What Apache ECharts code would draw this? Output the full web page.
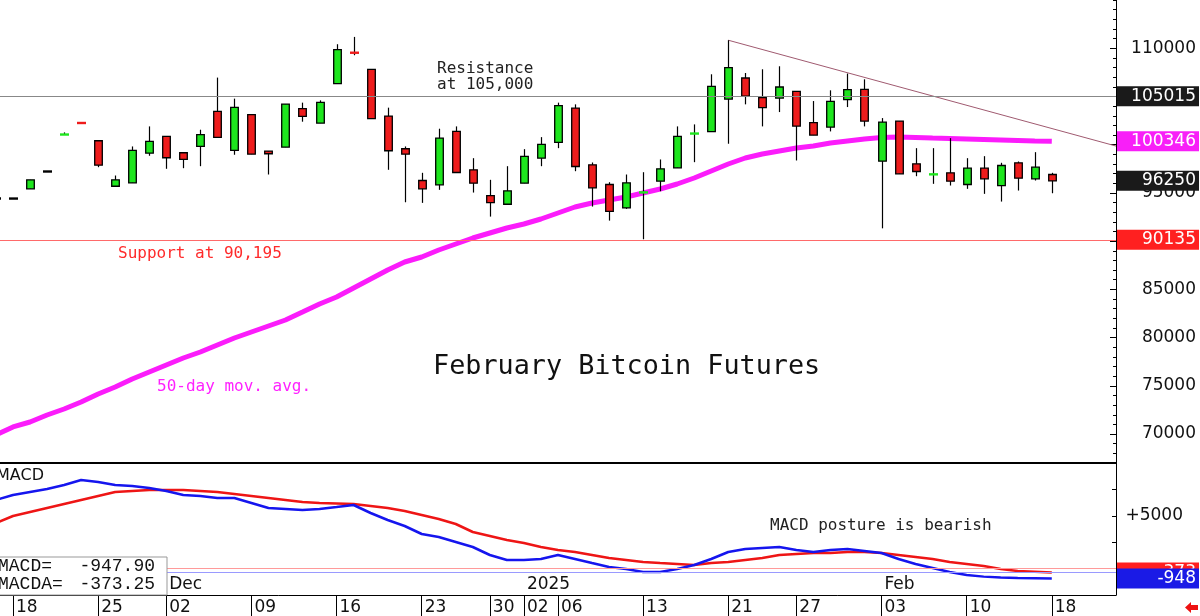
<!DOCTYPE html>
<html><head><meta charset="utf-8">
<script src="https://cdn.jsdelivr.net/npm/echarts@6/dist/echarts.min.js"></script>
<style>html,body{margin:0;padding:0;background:#fff}#c{width:1200px;height:616px}</style>
</head><body><div id="c"></div>
<script>
// ---------------- DATA ----------------
const dates = [
 '2024-11-15','2024-11-18','2024-11-19','2024-11-20','2024-11-21','2024-11-22','2024-11-25','2024-11-26','2024-11-27','2024-11-29',
 '2024-12-02','2024-12-03','2024-12-04','2024-12-05','2024-12-06','2024-12-09','2024-12-10','2024-12-11','2024-12-12','2024-12-13',
 '2024-12-16','2024-12-17','2024-12-18','2024-12-19','2024-12-20','2024-12-23','2024-12-24','2024-12-26','2024-12-27','2024-12-30','2024-12-31',
 '2025-01-02','2025-01-03','2025-01-06','2025-01-07','2025-01-08','2025-01-09','2025-01-10','2025-01-13','2025-01-14','2025-01-15','2025-01-16','2025-01-17',
 '2025-01-21','2025-01-22','2025-01-23','2025-01-24','2025-01-27','2025-01-28','2025-01-29','2025-01-30','2025-01-31',
 '2025-02-03','2025-02-04','2025-02-05','2025-02-06','2025-02-07','2025-02-10','2025-02-11','2025-02-12','2025-02-13','2025-02-14','2025-02-18'
];
const opens = [94415,94415,95423,97220,101040,102260,100410,95693,96046,99122,
 100857,99163,99818,103454,99402,103111,99329,99745,103735,102239,106332,109616,107818,102966,99579,96285,95838,101376,97397,94727,93823,
 96005,98602,100233,103797,97916,95870,93449,95040,96213,97605,101140,101345,104732,106914,104878,104836,105532,102280,101823,104670,105740,
 98291,102447,98020,96910,97085,95870,97563,95766,98124,96462,96909];
const closes = [94415,94415,96358,97220,101065,102239,97875,96358,99402,100337,
 98644,98467,101033,100753,103870,99018,99059,104213,102935,104389,109865,109449,102696,99371,99018,95423,100680,97116,96005,93999,95215,
 98779,100026,104047,97740,95527,93096,96046,95070,97501,100857,101169,106052,107995,105044,103839,105979,101927,100992,104493,105709,102447,
 102343,96981,97220,96940,96213,97563,96462,97844,96524,97667,96250];
const highs = [94415,94415,96358,97220,101273,102260,100410,96805,99818,101896,
 100857,99163,101553,106956,104774,103111,99329,104213,104358,104597,110416,111174,107818,103839,99818,97085,101657,101896,98602,96358,97771,
 99537,100784,104358,104182,98155,96109,96909,97148,98467,101896,102104,107299,110831,107434,107818,108130,105532,104525,105636,107371,106779,
 102758,102447,99641,99641,100680,98602,98810,98124,98259,99226,97085];
const lows = [94415,94415,95423,97220,101040,102239,97667,95693,96046,98852,
 97501,97563,97771,100753,98956,99018,96909,99745,102384,102239,106332,109273,102696,97397,94031,93968,95319,97116,95038,92545,93823,
 96005,97771,99641,97251,93584,92129,93346,90195,95174,97605,98187,101345,100098,104182,101896,103382,98363,100992,101376,103901,101896,
 91329,96981,96732,95942,95766,95423,94903,94103,95246,96285,94966];
const ma50 = [69904,70735,71253,71977,72599,73325,74154,74879,75709,76435,77160,77886,78508,79234,79960,80582,81204,81826,82655,83485,
 84210,85143,86076,87009,87839,88357,89083,89705,90327,90845,91363,91778,92296,92918,93540,93955,94266,94577,94992,95406,95924,
 96547,97272,97998,98620,99035,99346,99657,99864,100175,100383,100590,100745,100797,100745,100693,100642,100590,100538,100486,100435,100383,100346];
const macd = [6496,6970,7254,7538,7917,8390,8201,7917,7822,7633,7349,6970,6875,6686,6686,6212,5739,5644,5549,5644,5833,6023,5265,4602,4034,
 3277,2993,2519,2046,1288,814,814,909,1288,909,530,152,-38,-322,-322,-38,341,909,1572,1856,1951,2046,1761,1572,1761,1856,1667,1477,909,436,57,
 -322,-600,-760,-850,-900,-925,-948];
const macdSignal = [4318,4981,5360,5739,6118,6496,6875,7254,7349,7443,7443,7443,7349,7254,7065,6875,6686,6496,6307,6212,6165,6118,5928,5739,
 5455,5076,4697,4224,3466,3088,2709,2424,2046,1761,1572,1288,1004,814,625,530,436,341,530,625,814,1004,1288,1383,1477,1477,1572,1572,1477,
 1288,1098,909,625,436,246,-38,-227,-300,-373];
const macdLastValue = -947.90;
const macdaLastValue = -373.25;
const macdRefLevels = [50, -330];
const tickDates = ['2024-11-18','2024-11-25','2024-12-02','2024-12-09','2024-12-16','2024-12-23','2024-12-30','2025-01-02','2025-01-06',
 '2025-01-13','2025-01-21','2025-01-27','2025-02-03','2025-02-10','2025-02-18'];
const monthDates = ['2024-12-02','2025-01-02','2025-02-03'];
const monthLabels = ['Dec','2025','Feb'];
const priceTicks = [70000,75000,80000,85000,90000,95000,100000,105000,110000];
const resistanceLevel = 105015;
const supportLevel = 90135;
const lastPrice = 96250;
const lastMA = 100346;
const trendStart = {date:'2025-01-21', value:110831};
const trendEndValue = 99860;

// ---------------- CHART ----------------
const GREEN = '#1ee61e', RED = '#ee1c1c';
const XMIN = 0.237, XMAX = 65.77;
const idxOf = d => dates.indexOf(d);
const tickIdx = tickDates.map(idxOf);
const monthIdx = monthDates.map(idxOf);
const candleData = dates.map((d, i) => [i, opens[i], closes[i], lows[i], highs[i]]);
const maData = ma50.map((v, i) => [i, v]);
const macdData = macd.map((v, i) => [i, v]);
const sigData = macdSignal.map((v, i) => [i, v]);
const trendData = [[idxOf(trendStart.date), trendStart.value], [XMAX, trendEndValue]];

function renderCandle(params, api) {
  const x = api.value(0), o = api.value(1), c = api.value(2), l = api.value(3), h = api.value(4);
  const pO = api.coord([x, o]), pC = api.coord([x, c]), pL = api.coord([x, l]), pH = api.coord([x, h]);
  const cx = Math.round(pO[0]) + 0.5;
  const top = Math.min(pO[1], pC[1]), bot = Math.max(pO[1], pC[1]);
  const col = c > o ? GREEN : (c < o ? RED : '#000');
  const ch = [];
  if (pL[1] - pH[1] > 0.5) ch.push({type:'line', shape:{x1:cx, y1:pH[1], x2:cx, y2:pL[1]}, style:{stroke:'#000', lineWidth:1.2}});
  if (bot - top < 2) {
    ch.push({type:'rect', shape:{x:cx-4.5, y:(top+bot)/2-1.2, width:9, height:2.4}, style:{fill:col}});
  } else {
    ch.push({type:'rect', shape:{x:cx-3.8, y:top, width:7.6, height:bot-top}, style:{fill:col, stroke:'#000', lineWidth:1.3}});
  }
  return {type:'group', children:ch};
}

function boxLabel(text, bg) {
  return {show:true, position:'end', distance:1, formatter:'{v|' + text + '}', backgroundColor:bg, padding:[1,3,1,3],
    rich:{v:{width:76, align:'right', color:'#fff', fontSize:17, fontFamily:'DejaVu Sans', lineHeight:18}}};
}
const NOLINE = {color:'rgba(0,0,0,0)', width:0};
const txtFont = '16px "DejaVu Sans Mono"';

const option = {
  animation:false,
  backgroundColor:'#fff',
  grid:[
    {left:0, right:84, top:0, height:463},
    {left:0, right:84, top:463, height:132}
  ],
  xAxis:[
    {type:'value', gridIndex:0, position:'bottom', min:XMIN, max:XMAX,
     axisLine:{show:true, onZero:false, lineStyle:{color:'#000', width:2}}, axisTick:{show:false}, axisLabel:{show:false}, splitLine:{show:false}},
    {type:'value', gridIndex:1, position:'bottom', min:XMIN, max:XMAX,
     axisLine:{show:true, onZero:false, lineStyle:{color:'#000', width:1}},
     axisTick:{show:true, customValues:tickIdx, length:21, lineStyle:{color:'#000'}},
     axisLabel:{customValues:tickIdx, formatter:v => { const d = dates[Math.round(v)]; return d ? d.slice(8) : ''; },
       align:'left', padding:[0,0,0,3], margin:4, fontSize:17, fontFamily:'DejaVu Sans', color:'#111'},
     splitLine:{show:false}},
    {type:'value', gridIndex:1, position:'bottom', min:XMIN, max:XMAX,
     axisLine:{show:false}, axisTick:{show:false},
     axisLabel:{inside:true, customValues:monthIdx, formatter:v => monthLabels[monthIdx.indexOf(Math.round(v))] || '',
       align:'left', padding:[0,0,0,3], margin:2, fontSize:17, fontFamily:'DejaVu Sans', color:'#111'},
     splitLine:{show:false}}
  ],
  yAxis:[
    {type:'value', gridIndex:0, position:'right', min:67000, max:115000, interval:1000,
     axisLine:{show:true, onZero:false, lineStyle:{color:'#000'}}, axisTick:{show:true, inside:true, length:3, lineStyle:{color:'#000'}},
     axisLabel:{show:false}, splitLine:{show:false}},
    {type:'value', gridIndex:0, position:'right', min:67000, max:115000,
     axisLine:{show:false}, axisTick:{show:true, inside:true, length:6, customValues:priceTicks, lineStyle:{color:'#000'}},
     axisLabel:{customValues:priceTicks, formatter:v => String(v), align:'right', margin:80, fontSize:17, fontFamily:'DejaVu Sans', color:'#111'},
     splitLine:{show:false}},
    {type:'value', gridIndex:1, position:'right', min:-2500, max:10000, interval:2500,
     axisLine:{show:true, onZero:false, lineStyle:{color:'#000'}}, axisTick:{show:true, inside:true, length:4, lineStyle:{color:'#000'}},
     axisLabel:{formatter:v => v === 5000 ? '+5000' : '', align:'right', margin:67, fontSize:17, fontFamily:'DejaVu Sans', color:'#111'},
     splitLine:{show:false}}
  ],
  series:[
    {type:'line', name:'trend', xAxisIndex:0, yAxisIndex:0, data:trendData, symbol:'none', z:1,
     lineStyle:{color:'#a05a70', width:1}},
    {type:'line', name:'MA50', xAxisIndex:0, yAxisIndex:0, data:maData, symbol:'none', z:1, clip:false,
     lineStyle:{color:'#fb1cfb', width:5},
     markLine:{symbol:['none','none'], silent:true, z:6,
       data:[
         {yAxis:resistanceLevel, lineStyle:{color:'#888', width:1, type:'solid'}, label:boxLabel(String(resistanceLevel), '#1a1a1a')},
         {yAxis:supportLevel, lineStyle:{color:'#ff6a6a', width:1, type:'solid'}, label:boxLabel(String(supportLevel), '#ff2020')},
         {yAxis:lastMA, lineStyle:NOLINE, label:boxLabel(String(lastMA), '#f81ff8')},
         {yAxis:lastPrice, lineStyle:NOLINE, label:boxLabel(String(lastPrice), '#1a1a1a')}
       ]}},
    {type:'custom', name:'candles', xAxisIndex:0, yAxisIndex:0, data:candleData, renderItem:renderCandle, z:3, clip:true,
     encode:{x:0, y:[1,2,3,4]}},
    {type:'line', name:'MACDA', xAxisIndex:1, yAxisIndex:2, data:sigData, symbol:'none', z:2, clip:false,
     lineStyle:{color:'#ee1515', width:2.5},
     markLine:{symbol:['none','none'], silent:true, z:6,
       data:[
         {yAxis:macdRefLevels[0], lineStyle:{color:'#ff9a9a', width:1, type:'solid'}, label:{show:false}},
         {yAxis:macdRefLevels[1], lineStyle:{color:'#9a9aff', width:1, type:'solid'}, label:{show:false}},
         {yAxis:macdaLastValue, lineStyle:NOLINE, label:boxLabel(String(Math.round(macdaLastValue)), '#ff2020')},
         {yAxis:macdLastValue, lineStyle:NOLINE, label:boxLabel(String(Math.round(macdLastValue)), '#1a1ae6')}
       ]}},
    {type:'line', name:'MACD', xAxisIndex:1, yAxisIndex:2, data:macdData, symbol:'none', z:3, clip:false,
     lineStyle:{color:'#1515ee', width:2.5}}
  ],
  graphic:[
    {type:'text', x:437, y:69, z:50, style:{text:'Resistance', font:txtFont, fill:'#222', verticalAlign:'middle'}},
    {type:'text', x:437, y:85, z:50, style:{text:'at 105,000', font:txtFont, fill:'#222', verticalAlign:'middle'}},
    {type:'text', x:118, y:254, z:50, style:{text:'Support at 90,195', font:txtFont, fill:'#ff2a2a', verticalAlign:'middle'}},
    {type:'text', x:157, y:387, z:50, style:{text:'50-day mov. avg.', font:txtFont, fill:'#ff22ff', verticalAlign:'middle'}},
    {type:'text', x:433, y:367, z:50, style:{text:'February Bitcoin Futures', font:'26.8px "DejaVu Sans Mono"', fill:'#111', verticalAlign:'middle'}},
    {type:'text', x:770, y:526, z:50, style:{text:'MACD posture is bearish', font:txtFont, fill:'#222', verticalAlign:'middle'}},
    {type:'text', x:-4, y:476, z:50, style:{text:'MACD', font:'16px "DejaVu Sans"', fill:'#111', verticalAlign:'middle'}},
    {type:'rect', z:60, shape:{x:-1, y:557, width:168, height:38}, style:{fill:'#fff', stroke:'#999', lineWidth:1}},
    {type:'text', x:-2, y:566, z:61, style:{text:'MACD=', font:'18px "Liberation Mono"', fill:'#111', verticalAlign:'middle'}},
    {type:'text', x:155, y:566, z:61, style:{text:macdLastValue.toFixed(2), font:'18px "Liberation Mono"', fill:'#111', align:'right', verticalAlign:'middle'}},
    {type:'text', x:-2, y:584, z:61, style:{text:'MACDA=', font:'18px "Liberation Mono"', fill:'#111', verticalAlign:'middle'}},
    {type:'text', x:155, y:584, z:61, style:{text:macdaLastValue.toFixed(2), font:'18px "Liberation Mono"', fill:'#111', align:'right', verticalAlign:'middle'}},
    {type:'polygon', z:50, shape:{points:[[1185,607.5],[1191,602],[1191,605],[1198,605],[1198,610],[1191,610],[1191,613]]}, style:{fill:'#ee1111'}}
  ]
};
const chart = echarts.init(document.getElementById('c'), null, {renderer:'canvas'});
chart.setOption(option);
</script>
</body></html>
